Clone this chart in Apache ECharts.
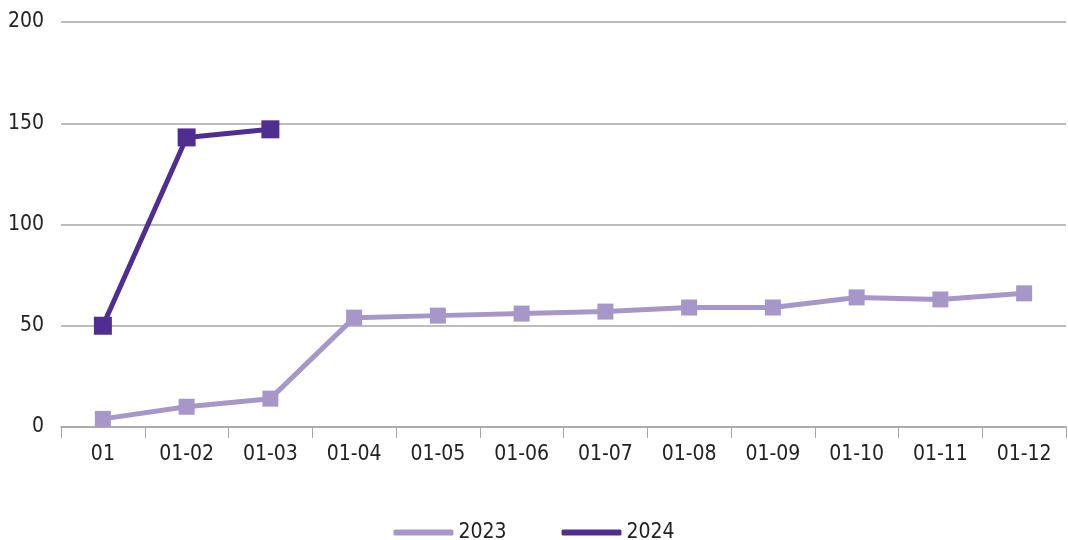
<!DOCTYPE html>
<html>
<head>
<meta charset="utf-8">
<style>html,body{margin:0;padding:0;background:#fff}#c{width:1068px;height:540px}</style>
<script src="https://cdn.jsdelivr.net/npm/echarts@6/dist/echarts.min.js"></script>
</head>
<body>
<div id="c"></div>
<script>
var categories = ['01','01-02','01-03','01-04','01-05','01-06','01-07','01-08','01-09','01-10','01-11','01-12'];
var series2023 = [4, 10, 14, 54, 55, 56, 57, 59, 59, 64, 63, 66];
var series2024 = [50, 143, 147];
var seriesNames = ['2023', '2024'];
var FONT = '"Liberation Sans Narrow","DejaVu Sans Condensed","Roboto",sans-serif';
var chart = echarts.init(document.getElementById('c'));
chart.setOption({
  animation: false,
  textStyle: {fontFamily: FONT},
  grid: {left: 61, right: 2, top: 22, bottom: 113},
  legend: {
    bottom: -8, left: 'center',
    itemWidth: 60, itemHeight: 6, itemGap: 55,
    icon: 'roundRect',
    textStyle: {fontFamily: FONT, fontSize: 21, color: '#222'},
    data: seriesNames
  },
  xAxis: {
    type: 'category', data: categories, boundaryGap: true,
    axisLine: {lineStyle: {color: '#a6a6a6', width: 1.5}},
    axisTick: {show: true, length: 11, alignWithLabel: false, lineStyle: {color: '#a6a6a6'}},
    axisLabel: {fontFamily: FONT, fontSize: 21, color: '#222', margin: 17}
  },
  yAxis: {
    type: 'value', min: 0, max: 200, interval: 50,
    axisLine: {show: false}, axisTick: {show: false},
    splitLine: {lineStyle: {color: '#a6a6a6', width: 1.5}},
    axisLabel: {fontFamily: FONT, fontSize: 21, color: '#222', margin: 17}
  },
  series: [
    {name: seriesNames[0], type: 'line', data: series2023, symbol: 'rect', symbolSize: 16,
     color: '#a797c8', lineStyle: {width: 5, color: '#a797c8'}, itemStyle: {color: '#a797c8'}},
    {name: seriesNames[1], type: 'line', data: series2024, symbol: 'rect', symbolSize: 18,
     color: '#4f2d91', lineStyle: {width: 5, color: '#4f2d91'}, itemStyle: {color: '#4f2d91'}}
  ]
});
</script>
</body>
</html>
